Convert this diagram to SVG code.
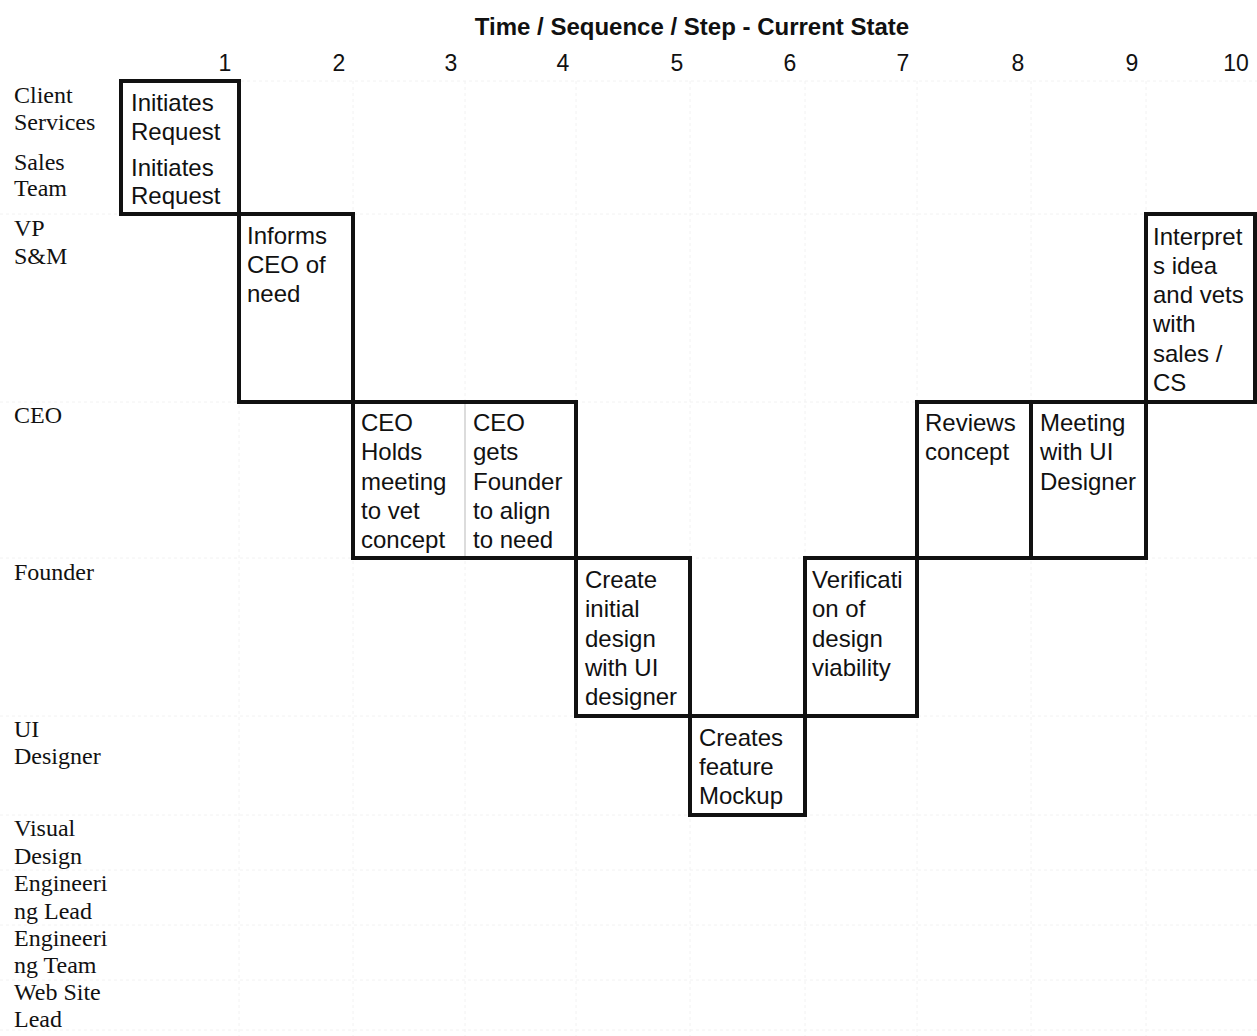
<svg xmlns="http://www.w3.org/2000/svg" width="1257" height="1036" viewBox="0 0 1257 1036">
<style>
.title{font-family:"Liberation Sans",Arial,sans-serif;font-weight:bold;font-size:24px;fill:#111}
.num{font-family:"Liberation Sans",Arial,sans-serif;font-size:23px;fill:#111}
.lane{font-family:"Liberation Serif","Times New Roman",serif;font-size:24px;fill:#111}
.bt{font-family:"Liberation Sans",Arial,sans-serif;font-size:24px;fill:#111}
.box{fill:none;stroke:#111;stroke-width:4}
.grid{stroke:#f2f2f2;stroke-width:1;stroke-dasharray:3 3;fill:none}
.div{stroke:#dcdcdc;stroke-width:2}
</style>
<rect width="1257" height="1036" fill="#fff"/>
<g id="grid">
<path class="grid" d="M121 81H1257M0 214H1257M0 402H1257M0 558H1257M0 716H1257M0 815H1257M0 870H1257M0 925H1257M0 980H1257M0 1030H1257"/>
<path class="grid" d="M239 81V1036M353 81V1036M465 81V1036M576 81V1036M690 81V1036M805 81V1036M917 81V1036M1031 81V1036M1146 81V1036"/>
</g>
<g id="header">
<text class="title" x="692" y="35" text-anchor="middle">Time / Sequence / Step - Current State</text>
<text class="num" x="225" y="71" text-anchor="middle">1</text>
<text class="num" x="339" y="71" text-anchor="middle">2</text>
<text class="num" x="451" y="71" text-anchor="middle">3</text>
<text class="num" x="563" y="71" text-anchor="middle">4</text>
<text class="num" x="677" y="71" text-anchor="middle">5</text>
<text class="num" x="790" y="71" text-anchor="middle">6</text>
<text class="num" x="903" y="71" text-anchor="middle">7</text>
<text class="num" x="1018" y="71" text-anchor="middle">8</text>
<text class="num" x="1132" y="71" text-anchor="middle">9</text>
<text class="num" x="1236" y="71" text-anchor="middle">10</text>
</g>
<g id="lanes">
<text class="lane" x="14" y="103">Client</text>
<text class="lane" x="14" y="130">Services</text>
<text class="lane" x="14" y="170">Sales</text>
<text class="lane" x="14" y="196">Team</text>
<text class="lane" x="14" y="236">VP</text>
<text class="lane" x="14" y="264">S&amp;M</text>
<text class="lane" x="14" y="423">CEO</text>
<text class="lane" x="14" y="580">Founder</text>
<text class="lane" x="14" y="737">UI</text>
<text class="lane" x="14" y="764">Designer</text>
<text class="lane" x="14" y="836">Visual</text>
<text class="lane" x="14" y="864">Design</text>
<text class="lane" x="14" y="891">Engineeri</text>
<text class="lane" x="14" y="919">ng Lead</text>
<text class="lane" x="14" y="946">Engineeri</text>
<text class="lane" x="14" y="973">ng Team</text>
<text class="lane" x="14" y="1000">Web Site</text>
<text class="lane" x="14" y="1027">Lead</text>
</g>
<g id="connectors"></g>
<g id="n1">
<rect class="box" x="121" y="81" width="118" height="133"/>
<text class="bt" x="131" y="111">Initiates</text>
<text class="bt" x="131" y="140">Request</text>
<text class="bt" x="131" y="176">Initiates</text>
<text class="bt" x="131" y="204">Request</text>
</g>
<g id="n2">
<rect class="box" x="239" y="214" width="114" height="188"/>
<text class="bt" x="247" y="244">Informs</text>
<text class="bt" x="247" y="273">CEO of</text>
<text class="bt" x="247" y="302">need</text>
</g>
<g id="n3">
<line class="div" x1="465" y1="404" x2="465" y2="556"/>
<path class="box" d="M465 402H353V558H465"/>
<text class="bt" x="361" y="431">CEO</text>
<text class="bt" x="361" y="460">Holds</text>
<text class="bt" x="361" y="490">meeting</text>
<text class="bt" x="361" y="519">to vet</text>
<text class="bt" x="361" y="548">concept</text>
</g>
<g id="n4">
<path class="box" d="M463 402H576V558H463"/>
<text class="bt" x="473" y="431">CEO</text>
<text class="bt" x="473" y="460">gets</text>
<text class="bt" x="473" y="490">Founder</text>
<text class="bt" x="473" y="519">to align</text>
<text class="bt" x="473" y="548">to need</text>
</g>
<g id="n5">
<rect class="box" x="576" y="558" width="114" height="158"/>
<text class="bt" x="585" y="588">Create</text>
<text class="bt" x="585" y="617">initial</text>
<text class="bt" x="585" y="647">design</text>
<text class="bt" x="585" y="676">with UI</text>
<text class="bt" x="585" y="705">designer</text>
</g>
<g id="n6">
<rect class="box" x="690" y="716" width="115" height="99"/>
<text class="bt" x="699" y="746">Creates</text>
<text class="bt" x="699" y="775">feature</text>
<text class="bt" x="699" y="804">Mockup</text>
</g>
<g id="n7">
<rect class="box" x="805" y="558" width="112" height="158"/>
<text class="bt" x="812" y="588">Verificati</text>
<text class="bt" x="812" y="617">on of</text>
<text class="bt" x="812" y="647">design</text>
<text class="bt" x="812" y="676">viability</text>
</g>
<g id="n8">
<rect class="box" x="917" y="402" width="114" height="156"/>
<text class="bt" x="925" y="431">Reviews</text>
<text class="bt" x="925" y="460">concept</text>
</g>
<g id="n9">
<rect class="box" x="1031" y="402" width="115" height="156"/>
<text class="bt" x="1040" y="431">Meeting</text>
<text class="bt" x="1040" y="460">with UI</text>
<text class="bt" x="1040" y="490">Designer</text>
</g>
<g id="n10">
<rect class="box" x="1146" y="214" width="109" height="188"/>
<text class="bt" x="1153" y="245">Interpret</text>
<text class="bt" x="1153" y="274">s idea</text>
<text class="bt" x="1153" y="303">and vets</text>
<text class="bt" x="1153" y="332">with</text>
<text class="bt" x="1153" y="362">sales /</text>
<text class="bt" x="1153" y="391">CS</text>
</g>
</svg>
